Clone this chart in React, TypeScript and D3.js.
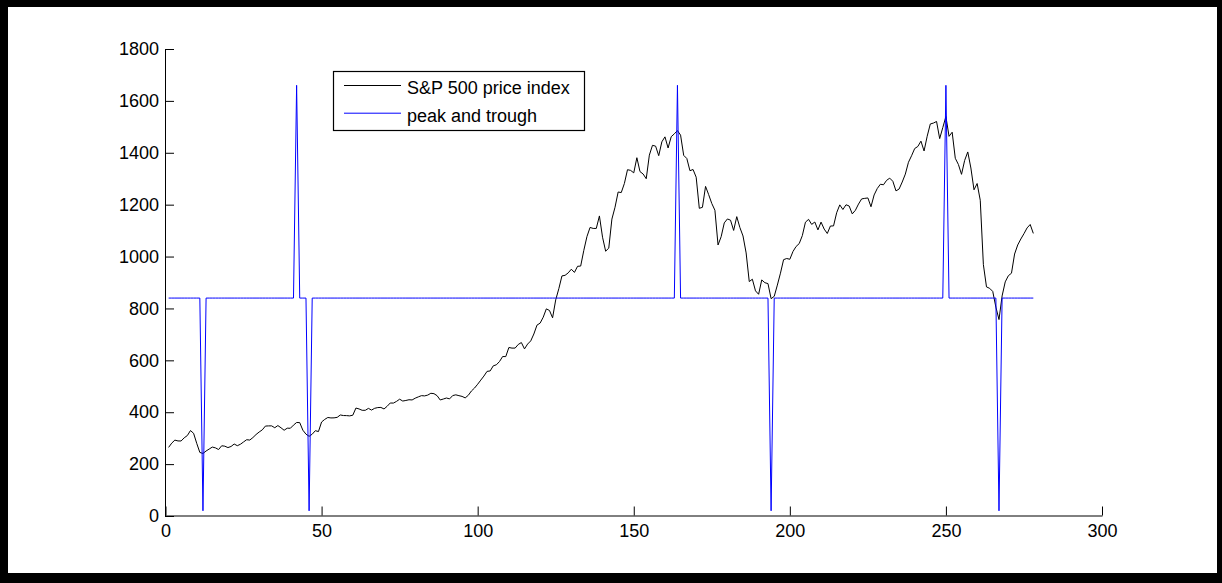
import { useEffect, useRef } from "react"
import * as d3 from "d3"

// monthly S&P 500 level, Jan 1987 .. Feb 2010 (x = 1..278)
const spx = [
  264.5, 280.9, 292.5, 289.3, 289.1, 301.4, 310.1, 329.4, 318.7, 280.2, 245.0, 241.0,
  250.5, 258.1, 265.7, 262.6, 256.1, 270.7, 269.1, 263.7, 268.0, 277.4, 271.0, 276.5,
  285.4, 294.0, 292.7, 302.3, 313.9, 323.7, 331.9, 346.6, 347.3, 347.4, 340.2, 348.6,
  340.0, 330.5, 338.5, 338.2, 350.3, 360.4, 360.0, 330.8, 315.4, 307.1, 315.3, 328.8,
  325.5, 362.3, 372.3, 379.7, 378.0, 378.3, 380.2, 389.4, 387.2, 386.9, 385.9, 388.5,
  416.1, 412.6, 407.4, 407.4, 414.8, 408.3, 415.1, 417.9, 418.5, 412.5, 422.8, 435.6,
  435.2, 441.7, 450.2, 443.1, 445.3, 448.1, 447.3, 454.1, 459.2, 463.9, 462.9, 466.0,
  473.0, 471.6, 463.8, 447.2, 450.9, 454.8, 451.4, 464.2, 467.0, 463.8, 461.0, 455.2,
  465.3, 481.9, 493.2, 507.9, 523.8, 539.4, 557.4, 559.1, 578.8, 582.9, 595.5, 614.6,
  614.4, 649.5, 647.1, 647.2, 661.2, 668.5, 644.1, 662.7, 674.9, 701.5, 735.7, 743.3,
  766.2, 798.4, 792.2, 763.9, 833.1, 876.3, 925.3, 927.7, 937.0, 951.2, 938.9, 962.4,
  963.4, 1023.7, 1076.8, 1112.2, 1108.4, 1108.4, 1156.6, 1074.6, 1020.6, 1032.5, 1144.4, 1190.1,
  1248.8, 1246.6, 1281.7, 1334.8, 1332.1, 1322.6, 1381.0, 1327.5, 1318.2, 1300.0, 1391.0, 1428.7,
  1425.6, 1388.9, 1442.2, 1461.4, 1418.5, 1462.0, 1473.0, 1485.5, 1468.1, 1390.1, 1378.0, 1330.9,
  1335.6, 1305.8, 1185.9, 1189.8, 1270.4, 1238.7, 1204.5, 1178.5, 1044.6, 1076.6, 1129.7, 1144.9,
  1140.2, 1100.7, 1153.8, 1111.9, 1079.3, 1014.0, 903.6, 912.6, 867.8, 854.6, 909.9, 899.2,
  895.8, 837.6, 846.6, 890.0, 936.0, 988.0, 992.5, 989.5, 1019.4, 1038.7, 1049.9, 1080.6,
  1132.5, 1143.4, 1124.0, 1133.1, 1102.8, 1132.8, 1105.9, 1088.9, 1117.7, 1118.1, 1168.9, 1199.2,
  1181.4, 1199.6, 1194.9, 1164.4, 1178.3, 1202.3, 1222.2, 1224.3, 1225.9, 1192.0, 1237.4, 1262.1,
  1278.7, 1276.7, 1293.7, 1302.2, 1290.0, 1253.1, 1260.2, 1287.2, 1317.8, 1363.4, 1388.6, 1416.4,
  1424.2, 1444.8, 1407.0, 1463.7, 1511.1, 1514.5, 1520.7, 1454.6, 1497.1, 1539.7, 1463.4, 1479.2,
  1378.8, 1354.9, 1316.9, 1370.5, 1403.2, 1341.3, 1257.3, 1281.5, 1217.0, 968.8, 883.0, 877.6,
  865.6, 805.2, 757.1, 848.2, 902.4, 926.1, 935.8, 1009.7, 1044.6, 1067.7, 1088.1, 1110.4,
  1123.6, 1089.2,
]

// turning points (x index) and the levels of the indicator line
const peaks = [42, 164, 250]
const troughs = [12, 46, 194, 267]
const baseLevel = 840
const peakLevel = 1660
const troughLevel = 20

const xTicks = [0, 50, 100, 150, 200, 250, 300]
const yTicks = [0, 200, 400, 600, 800, 1000, 1200, 1400, 1600, 1800]
const legendLabels = ["S&P 500 price index", "peak and trough"]
const legendColors = ["#000000", "#0000ff"]

export default function App() {
  const svgRef = useRef<SVGSVGElement>(null)

  useEffect(() => {
    if (!svgRef.current) return
    document.body.style.margin = "0"

    const svg = d3.select(svgRef.current)
    svg.selectAll("*").remove()

    const width = 1222
    const height = 583
    const font = "'Liberation Sans', Arial, Helvetica, sans-serif"

    // figure frame
    svg.append("rect").attr("width", width).attr("height", height).attr("fill", "#000")
    svg.append("rect").attr("x", 8).attr("y", 7).attr("width", 1209).attr("height", 566).attr("fill", "#fff")

    const x = d3.scaleLinear().domain([0, 300]).range([165.5, 1102])
    const y = d3.scaleLinear().domain([0, 1800]).range([516, 49])

    const xAxis = svg
      .append("g")
      .attr("transform", `translate(0,515.5)`)
      .call(
        d3
          .axisBottom(x)
          .tickValues(xTicks)
          .tickFormat(d3.format("d"))
          .tickSizeInner(-9)
          .tickSizeOuter(0)
          .tickPadding(9),
      )
    xAxis.attr("font-family", font).attr("font-size", 18).attr("color", "#000")

    const yAxis = svg
      .append("g")
      .attr("transform", `translate(165,0)`)
      .call(
        d3
          .axisLeft(y)
          .tickValues(yTicks)
          .tickFormat(d3.format("d"))
          .tickSizeInner(-9)
          .tickSizeOuter(0)
          .tickPadding(6),
      )
    yAxis.attr("font-family", font).attr("font-size", 18).attr("color", "#000")

    const line = d3
      .line<number>()
      .x((_, i) => x(i + 1))
      .y((d) => y(d))

    // indicator series built from the turning points
    const turning = spx.map((_, i) => {
      if (peaks.includes(i + 1)) return peakLevel
      if (troughs.includes(i + 1)) return troughLevel
      return baseLevel
    })

    svg.append("path").datum(spx).attr("fill", "none").attr("stroke", "#000").attr("stroke-width", 1).attr("d", line)

    svg
      .append("path")
      .datum(turning)
      .attr("fill", "none")
      .attr("stroke", "#0000ff")
      .attr("stroke-width", 1)
      .attr("d", line)

    // legend
    const legend = svg.append("g")
    legend
      .append("rect")
      .attr("x", 333.5)
      .attr("y", 71.5)
      .attr("width", 251)
      .attr("height", 59)
      .attr("fill", "#fff")
      .attr("stroke", "#000")
      .attr("stroke-width", 1.2)

    legendLabels.forEach((label, i) => {
      const ly = 85.5 + i * 27.7
      legend
        .append("line")
        .attr("x1", 344)
        .attr("x2", 401)
        .attr("y1", ly)
        .attr("y2", ly)
        .attr("stroke", legendColors[i])
        .attr("stroke-width", 1)
      legend
        .append("text")
        .attr("x", 407)
        .attr("y", ly + 8.5)
        .attr("font-family", font)
        .attr("font-size", 18)
        .attr("fill", "#000")
        .text(label)
    })
  }, [])

  return <svg ref={svgRef} width={1222} height={583} style={{ display: "block" }}></svg>
}
